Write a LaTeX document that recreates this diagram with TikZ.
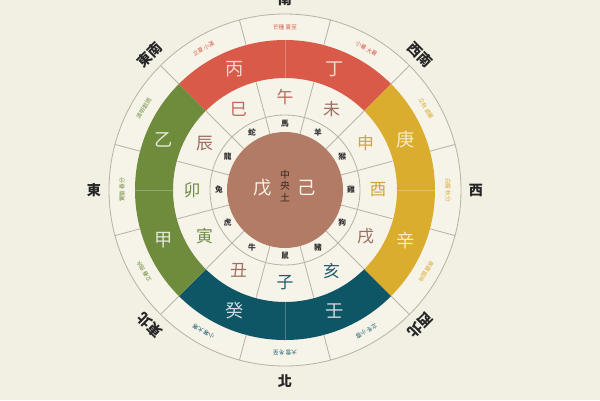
\documentclass[tikz,border=0pt]{standalone}
\usepackage{fontspec}
\newfontfamily\cjk{Noto Sans CJK TC}
\usetikzlibrary{positioning}
\definecolor{bg}{HTML}{F2EFE3}
\definecolor{paper}{HTML}{F6F3E9}
\definecolor{rule}{HTML}{B9B4A8}
\definecolor{fire}{HTML}{D95A48}
\definecolor{metal}{HTML}{DAAD2E}
\definecolor{water}{HTML}{0E5566}
\definecolor{wood}{HTML}{6F8B3C}
\definecolor{earth}{HTML}{B27B65}
\definecolor{firetxt}{HTML}{C4635A}
\definecolor{earthtxt}{HTML}{9C6E62}
\definecolor{metaltxt}{HTML}{D0A634}
\definecolor{watertxt}{HTML}{1E5E6B}
\definecolor{woodtxt}{HTML}{718B48}
\tikzstyle{every node}=[font=\cjk,inner sep=0pt]
\tikzstyle{every path}=[line width=0.6pt,line cap=round,line join=round]
\tikzstyle{stem}=[font=\cjk\fontsize{13}{13}\selectfont]
\tikzstyle{branch}=[font=\cjk\fontsize{12}{12}\selectfont]
\tikzstyle{animal}=[font=\cjk\bfseries\fontsize{5.5}{5.5}\selectfont,text=black!80]
\tikzstyle{term}=[font=\cjk\fontsize{4}{4}\selectfont]
\tikzstyle{compass}=[font=\cjk\bfseries\fontsize{10}{10}\selectfont,text=black!85]

\begin{document}
\begin{tikzpicture}[scale=0.025]
  \fill[bg] (-285,-210) rectangle (315,190);
  \useasboundingbox (-285,-210) rectangle (315,190);
  \fill[paper] (0,0) circle(176);
  % the four seasons
  \foreach \a/\c in {45/fire,-45/metal,-135/water,135/wood}
    \fill[\c] (\a:112) arc(\a:\a+90:112) -- (\a+90:150) arc(\a+90:\a:150) -- cycle;
  \foreach \a in {0,90,180,270}
    \draw[white,opacity=0.25,line width=0.4pt] (\a:112) -- (\a:150);
  % rings
  \draw[rule] (0,0) circle(176) (0,0) circle(75);
  \foreach \a in {15,45,...,345}
    \draw[rule] (\a:58) -- (\a:111) (\a:150) -- (\a:176);
  \fill[earth] (0,0) circle(58);
  % stems
  \foreach \n/\a/\c [count=\i] in {丁/67.5/fire!25,丙/112.5/fire!25,乙/157.5/wood!20,甲/-157.5/wood!20,
      癸/-112.5/water!20,壬/-67.5/water!20,辛/-22.5/metal!25,庚/22.5/metal!25}
    \node[stem,text=\c] (stem\i) at (\a:131) {\n};
  % branches and animals
  \foreach \n/\m/\a/\c [count=\i] in {午/馬/90/firetxt,未/羊/60/earthtxt,申/猴/30/metaltxt,
      酉/雞/0/metaltxt,戌/狗/-30/earthtxt,亥/豬/-60/watertxt,子/鼠/-90/watertxt,
      丑/牛/-120/earthtxt,寅/虎/-150/woodtxt,卯/兔/180/woodtxt,辰/龍/150/earthtxt,巳/蛇/120/firetxt}
  {
    \node[branch,text=\c] (br\i) at (\a:93) {\n};
    \node[animal] (an\i) at (\a:66) {\m};
  }
  % solar terms
  \foreach \t/\a/\c [count=\i] in {芒種 夏至/90/fire,小暑 大暑/60/fire,立秋 處暑/30/metal,
      白露 秋分/0/metal,寒露 霜降/-30/metal,立冬 小雪/-60/water,大雪 冬至/-90/water,
      小寒 大寒/-120/water,立春 雨水/-150/wood,驚蟄 春分/180/wood,清明 穀雨/150/wood,立夏 小滿/120/fire}
    \node[term,text=\c,rotate=\a-90] (term\i) at (\a:163) {\t};
  % directions
  \foreach \d/\a/\r [count=\i] in {南/90/0,西南/45/-45,西/0/0,西北/-45/-135,
      北/-90/0,東北/-135/135,東/180/0,東南/135/45}
    \node[compass,rotate=\r] (dir\i) at (\a:191) {\d};
  % centre
  \node[stem,text=paper] (wu) at (-22,2) {戊};
  \node[stem,text=paper] (ji) at (22,2) {己};
  \node[font=\cjk\fontsize{7}{8.5}\selectfont,align=center,text=black!70!earth] (mid) at (0,4) {中\\央\\土};
\end{tikzpicture}
\end{document}
